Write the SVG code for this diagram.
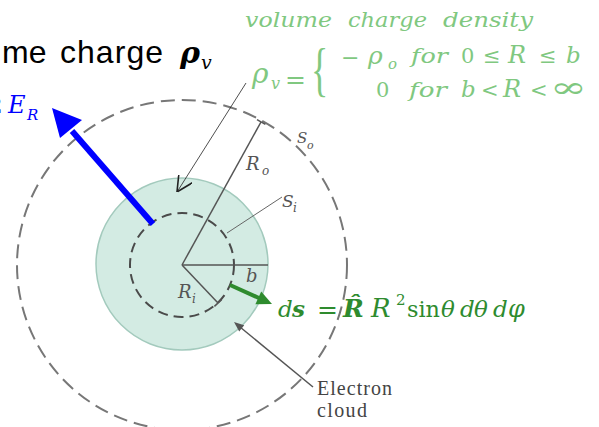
<svg xmlns="http://www.w3.org/2000/svg" width="599" height="427" viewBox="0 0 599 427">
<style>
.m{font-family:"DejaVu Serif","Liberation Serif",serif;font-style:italic}
.r{font-family:"DejaVu Serif","Liberation Serif",serif}
.t{font-family:"Liberation Serif","DejaVu Serif",serif}
.lg{fill:#80c880}
.dg{fill:#2e8b2e}
.gr{fill:#555}
.ln{stroke:#555;stroke-width:1.5;fill:none}
</style>
<defs>
<marker id="openHead" viewBox="0 0 10 10" refX="10" refY="5" markerWidth="16" markerHeight="16" markerUnits="userSpaceOnUse" orient="auto">
<path d="M0,0 L10,5 L0,10" fill="none" stroke="#222" stroke-width="1"/>
</marker>
</defs>
<rect width="599" height="427" fill="#ffffff"/>

<g id="electron-cloud">
<circle cx="182" cy="264" r="86" fill="#d3ebe3" stroke="#a3cabd" stroke-width="1.5"/>
</g>
<g id="outer-surface">
<circle cx="182" cy="265" r="165" fill="none" stroke="#777" stroke-width="2" stroke-dasharray="14 7"/>
</g>
<g id="inner-surface">
<circle cx="182" cy="265" r="52" fill="none" stroke="#4a4a4a" stroke-width="2" stroke-dasharray="10 6"/>
</g>

<g id="connectors">
<line class="ln" x1="182" y1="265" x2="261" y2="122"/>
<line class="ln" x1="257" y1="119.6" x2="265.4" y2="124.4"/>
<line class="ln" x1="182" y1="265" x2="268" y2="265"/>
<line class="ln" x1="182" y1="265" x2="218" y2="303"/>
<line class="ln" x1="214.4" y1="306.4" x2="221.6" y2="299.6"/>
<line x1="227" y1="233" x2="282" y2="197" stroke="#666" stroke-width="1"/>
<line x1="246" y1="83" x2="177" y2="192" stroke="#222" stroke-width="0.8" marker-end="url(#openHead)"/>
<line x1="313" y1="387" x2="240" y2="327" stroke="#555" stroke-width="1.5"/>
<polygon points="234,322 244.2,325.3 239.2,331.5" fill="#555"/>
<line x1="153" y1="224" x2="72" y2="131" stroke="#0000ff" stroke-width="6"/>
<polygon points="52,108 82,120 60,138" fill="#0000ff"/>
<line x1="230" y1="285" x2="260" y2="298.5" stroke="#2e8b2e" stroke-width="4"/>
<polygon points="272,304 255.4,304.2 261.2,291.4" fill="#2e8b2e"/>
</g>

<g id="title">
<text x="2" y="63" font-family="Liberation Sans, Arial, sans-serif" font-size="32" fill="#000">me</text>
<text x="60" y="63" font-family="Liberation Sans, Arial, sans-serif" font-size="32" fill="#000" textLength="103">charge</text>
<text x="180" y="63" class="m" font-size="30" font-weight="bold" fill="#000">ρ</text>
<text x="201" y="69" class="m" font-size="19" fill="#000">v</text>
</g>

<g id="field-label" fill="#0000ff">
<text x="-12" y="113" class="r" font-size="23">2</text>
<text x="8" y="113" class="m" font-size="24">E</text>
<text x="27" y="120" class="m" font-size="15">R</text>
</g>

<g id="density-label" class="lg">
<text x="245" y="27" class="m" font-size="20" textLength="87" lengthAdjust="spacingAndGlyphs">volume</text>
<text x="348" y="27" class="m" font-size="20" textLength="79" lengthAdjust="spacingAndGlyphs">charge</text>
<text x="443" y="27" class="m" font-size="20" textLength="90" lengthAdjust="spacingAndGlyphs">density</text>
<text x="252" y="83" class="m" font-size="28">ρ</text>
<text x="271" y="89" class="m" font-size="16">v</text>
<text x="285" y="88" class="r" font-size="25">=</text>
<text x="311" y="89" class="t" font-size="60" transform="translate(311 0) scale(0.6 1) translate(-311 0)">{</text>
<text x="341" y="65" class="r" font-size="22">−</text>
<text x="368" y="64" class="m" font-size="25">ρ</text>
<text x="388" y="69" class="m" font-size="15">o</text>
<text x="411" y="63" class="m" font-size="21" textLength="37" lengthAdjust="spacingAndGlyphs">for</text>
<text x="461" y="63" class="r" font-size="21">0</text>
<text x="483" y="63" class="r" font-size="21">≤</text>
<text x="508" y="63" class="m" font-size="24">R</text>
<text x="539" y="63" class="r" font-size="21">≤</text>
<text x="566" y="63" class="m" font-size="23">b</text>
<text x="376" y="97" class="r" font-size="21">0</text>
<text x="409" y="97" class="m" font-size="21" textLength="38" lengthAdjust="spacingAndGlyphs">for</text>
<text x="461" y="97" class="m" font-size="23">b</text>
<text x="481" y="97" class="r" font-size="21">&lt;</text>
<text x="503" y="97" class="m" font-size="24">R</text>
<text x="530" y="97" class="r" font-size="21">&lt;</text>
<text x="550" y="97" class="r" font-size="28" textLength="37" lengthAdjust="spacingAndGlyphs">∞</text>
</g>

<g id="geometry-labels" class="gr">
<text x="246" y="170" class="m" font-size="18">R</text>
<text x="262" y="175" class="m" font-size="12">o</text>
<text x="297" y="143" class="m" font-size="15">S</text>
<text x="307" y="149" class="m" font-size="11">o</text>
<text x="282" y="207" class="m" font-size="17">S</text>
<text x="293" y="212" class="m" font-size="12">i</text>
<text x="246" y="282" class="m" font-size="18">b</text>
<text x="178" y="298" class="m" font-size="18">R</text>
<text x="192" y="303" class="m" font-size="12">i</text>
</g>

<g id="electron-cloud-label" fill="#444">
<text x="317" y="395" class="t" font-size="20" textLength="75">Electron</text>
<text x="317" y="417" class="t" font-size="20" textLength="50">cloud</text>
</g>

<g id="ds-label" class="dg">
<text x="278" y="317" class="m" font-size="23">d</text>
<text x="292" y="317" class="m" font-size="23" font-weight="bold">s</text>
<text x="317" y="318" class="r" font-size="25">=</text>
<text x="343" y="317" class="m" font-size="25" font-weight="bold">R&#x302;</text>
<text x="371" y="317" class="m" font-size="26">R</text>
<text x="396" y="305" class="r" font-size="15">2</text>
<text x="407" y="317" class="r" font-size="23" textLength="33" lengthAdjust="spacingAndGlyphs">sin</text>
<text x="441" y="317" class="m" font-size="23">θ</text>
<text x="460" y="317" class="m" font-size="23">d</text>
<text x="474" y="317" class="m" font-size="23">θ</text>
<text x="493" y="317" class="m" font-size="23">d</text>
<text x="508" y="317" class="m" font-size="24">φ</text>
</g>
</svg>
